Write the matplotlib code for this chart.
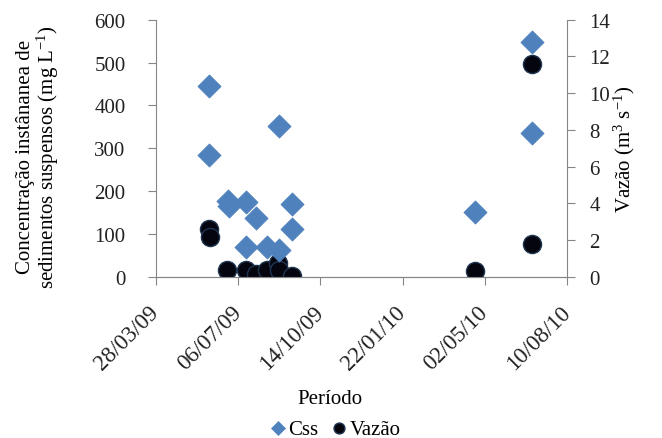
import matplotlib
matplotlib.use("Agg")
import matplotlib.pyplot as plt
import matplotlib.dates as mdates
import numpy as np
from datetime import datetime

plt.rcParams['font.family'] = ['Liberation Serif', 'DejaVu Serif']
plt.rcParams['mathtext.fontset'] = 'custom'
plt.rcParams['mathtext.rm'] = 'Liberation Serif'
plt.rcParams['mathtext.it'] = 'Liberation Serif'

# Css data (mg/L)
css_dates = ["2009-06-01", "2009-06-01", "2009-06-23", "2009-06-25", "2009-07-16",
             "2009-07-16", "2009-07-28", "2009-08-10", "2009-08-25", "2009-08-25",
             "2009-09-09", "2009-09-09", "2010-04-20", "2010-06-28", "2010-06-28"]
css_values = [446, 284, 178, 166, 175, 71, 138, 71, 351, 62, 171, 113, 152, 547, 335]

# Vazão data (m3/s)
vaz_dates = ["2009-06-01", "2009-06-02", "2009-06-22", "2009-07-16", "2009-07-28",
             "2009-08-10", "2009-08-24", "2009-08-25", "2009-09-09", "2010-04-20",
             "2010-06-28", "2010-06-28"]
vaz_values = [2.6, 2.2, 0.4, 0.4, 0.15, 0.4, 0.75, 0.4, 0.05, 0.3, 11.6, 1.8]

tick_dates = ["2009-03-28", "2009-07-06", "2009-10-14", "2010-01-22", "2010-05-02", "2010-08-10"]
tick_labels = ["28/03/09", "06/07/09", "14/10/09", "22/01/10", "02/05/10", "10/08/10"]

def d(s):
    return mdates.date2num(datetime.strptime(s, "%Y-%m-%d"))

W, H = 662, 439
fig = plt.figure(figsize=(W/100, H/100), dpi=100)
left, right, top, bottom = 156, 567, 20.7, 278
ax = fig.add_axes([left/W, 1-bottom/H, (right-left)/W, (bottom-top)/H])
ax2 = ax.twinx()

gray = '#868686'
blue = '#4F81BD'
fs = 15

ax.scatter([d(s) for s in css_dates], css_values, marker='D', s=140, color=blue,
           edgecolor=blue, linewidth=0.5, zorder=3, label='Css')
ax2.scatter([d(s) for s in vaz_dates], vaz_values, marker='o', s=170, color='#050510',
            edgecolor='#1F3550', linewidth=1.0, zorder=3, label='Vazão')

ax.set_xlim(d(tick_dates[0]), d(tick_dates[-1]))
ax.set_ylim(0, 600)
ax2.set_ylim(0, 14)
ax.set_yticks(np.arange(0, 601, 100))
ax2.set_yticks(np.arange(0, 15, 2))
ax.set_xticks([d(s) for s in tick_dates])
ax.set_xticklabels(tick_labels, rotation=45, ha='right', va='center',
                   rotation_mode='anchor', fontsize=16.5)

for a in (ax, ax2):
    for sp in a.spines.values():
        sp.set_color(gray)
    a.spines['top'].set_visible(False)
    a.tick_params(colors=gray, labelcolor='#222222', labelsize=fs, length=6, direction='out')
ax.spines['right'].set_visible(False)
ax2.spines['left'].set_visible(False)
ax.patch.set_visible(False)
ax.set_zorder(ax2.get_zorder() + 1)
ax.tick_params(axis='x', pad=17, labelsize=16.5)
ax.tick_params(axis='y', pad=16)
ax2.tick_params(axis='y', pad=10)

ax.set_ylabel("Concentração instânanea de\nsedimentos suspensos (mg L$^{-1}$)",
              fontsize=fs, linespacing=1.0)
ax.yaxis.set_label_coords((61 - left) / (right - left), 0.47)
ax2.set_ylabel("Vazão (m$^{3}$ s$^{-1}$)", fontsize=fs, rotation=90)
ax2.yaxis.set_label_coords((612 - left) / (right - left), 0.5)
ax.set_xlabel("Período", fontsize=fs)
ax.xaxis.set_label_coords((330 - left) / (right - left), -(400 - bottom) / (bottom - top))
ax.xaxis.label.set_va('center')

h1, l1 = ax.get_legend_handles_labels()
h2, l2 = ax2.get_legend_handles_labels()
fig.legend(h1 + h2, l1 + l2, loc='center', bbox_to_anchor=(335/W, 1-430/H), ncol=2,
           frameon=False, fontsize=fs, handletextpad=0.1, handlelength=0.8,
           columnspacing=0.6, markerscale=0.6, borderaxespad=0, borderpad=0)

fig.savefig("out.png", dpi=100)
